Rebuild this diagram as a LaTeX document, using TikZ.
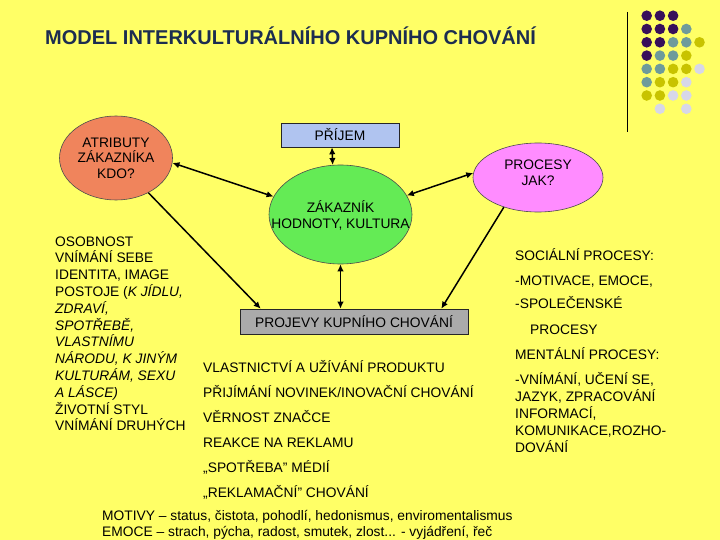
\documentclass[tikz,border=0pt]{standalone}
\usepackage{fontspec}
\setmainfont{Liberation Sans}
\usetikzlibrary{shapes.geometric,arrows.meta}
\definecolor{bg}{RGB}{255,255,102}
\definecolor{titc}{RGB}{28,45,80}
\definecolor{atrc}{RGB}{240,132,92}
\definecolor{zakc}{RGB}{100,235,85}
\definecolor{procc}{RGB}{255,140,255}
\definecolor{pric}{RGB}{176,196,240}
\definecolor{prjc}{RGB}{170,170,170}
\definecolor{dP}{RGB}{55,15,90}
\definecolor{dT}{RGB}{110,155,155}
\definecolor{dY}{RGB}{200,195,0}
\definecolor{dL}{RGB}{215,215,232}
\begin{document}
\begin{tikzpicture}[x=1pt,y=-1pt,
  txt/.style={inner sep=0pt, anchor=base west, font=\fontsize{13.8}{16}\selectfont},
  lbl/.style={inner sep=0pt, align=center, font=\fontsize{13.8}{16.5}\selectfont},
  ell/.style={ellipse, draw=black!70, line width=0.6pt, inner sep=0pt},
  boxx/.style={rectangle, draw=black!85, line width=0.6pt, inner sep=0pt, font=\fontsize{13.8}{16}\selectfont},
  conn/.style={line width=1.5pt, black},
  >={Latex[length=7pt,width=6.5pt]}]
\fill[bg] (0,0) rectangle (720,540);
\useasboundingbox (0,0) rectangle (720,540);

% title
\node[anchor=base west, inner sep=0pt, font=\bfseries\fontsize{20}{24}\selectfont, text=titc] (title) at (45,45) {MODEL INTERKULTURÁLNÍHO KUPNÍHO CHOVÁNÍ};

% decoration
\draw[line width=1pt] (627.7,12) -- (627.7,132);
\foreach \c/\r/\k in {0/0/dP,1/0/dP,2/0/dP,
  0/1/dP,1/1/dP,2/1/dP,3/1/dT,
  0/2/dP,1/2/dP,2/2/dT,3/2/dT,4/2/dY,
  0/3/dP,1/3/dT,2/3/dT,3/3/dY,
  0/4/dT,1/4/dT,2/4/dY,3/4/dY,4/4/dL,
  0/5/dT,1/5/dY,2/5/dY,3/5/dL,
  0/6/dY,1/6/dY,2/6/dL,3/6/dL,
  1/7/dL,3/7/dL}
  \fill[\k] ({646.7+13.2*\c},{15.7+13.3*\r}) circle[radius=5.3pt];

% main nodes
\node[ell, fill=atrc, minimum width=113pt, minimum height=84pt,
  label={[lbl,font=\fontsize{13.8}{15.5}\selectfont]center:ATRIBUTY\\ZÁKAZNÍKA\\KDO?}] (atr) at (116,158) {};
\node[boxx, fill=pric, minimum width=118pt, minimum height=24pt] (pri) at (340,135) {PŘÍJEM};
\node[ell, fill=procc, minimum width=130pt, minimum height=69pt,
  label={[lbl,yshift=5pt]center:PROCESY\\JAK?}] (proc) at (538,177.5) {};
\node[ell, fill=zakc, minimum width=143pt, minimum height=99pt,
  label={[lbl,yshift=-1pt]center:ZÁKAZNÍK\\HODNOTY, KULTURA}] (zak) at (340.5,214.5) {};
\node[boxx, fill=prjc, minimum width=228pt, minimum height=25pt] (prj) at (354,321.5) {PROJEVY KUPNÍHO CHOVÁNÍ};

% connectors
\draw[conn,<->] (atr.-5) -- (zak.165);
\draw[conn,<->] ([xshift=-8pt]pri.south) -- (zak.99);
\draw[conn,<->] (zak.16) -- (proc.176);
\draw[conn,<->] (zak.south) -- (zak.south |- prj.north);
\draw[conn,->] (atr.-47) -- ([xshift=21pt]prj.north west);
\draw[conn,->] (proc.-139) -- ([xshift=-27pt]prj.north east);

% left block
\foreach \t [count=\i] in {OSOBNOST,VNÍMÁNÍ SEBE,{IDENTITA, IMAGE},{POSTOJE (\textit{K JÍDLU,}},
  {\textit{ZDRAVÍ,}},{\textit{SPOTŘEBĚ,}},{\textit{VLASTNÍMU}},{\textit{NÁRODU, K JINÝM}},
  {\textit{KULTURÁM, SEXU}},{\textit{A LÁSCE)}},ŽIVOTNÍ STYL,VNÍMÁNÍ DRUHÝCH}
  \node[txt] (left\i) at (55,{246+16.8*(\i-1)}) {\t};

% middle list
\foreach \t [count=\i] in {VLASTNICTVÍ A UŽÍVÁNÍ PRODUKTU,PŘIJÍMÁNÍ NOVINEK/INOVAČNÍ CHOVÁNÍ,
  VĚRNOST ZNAČCE,REAKCE NA REKLAMU,{„SPOTŘEBA\char34{} MÉDIÍ},{„REKLAMAČNÍ\char34{} CHOVÁNÍ}}
  \node[txt] (mid\i) at (203,{372+25*(\i-1)}) {\t};

% right block
\node[txt] (r1) at (515,260) {SOCIÁLNÍ PROCESY:};
\node[txt] (r2) at (515,285) {-MOTIVACE, EMOCE,};
\node[txt] (r3) at (515,308) {-SPOLEČENSKÉ};
\node[txt] (r4) at (530,334) {PROCESY};
\node[txt] (r5) at (515,359) {MENTÁLNÍ PROCESY:};
\node[txt] (r6) at (515,384) {-VNÍMÁNÍ, UČENÍ SE,};
\node[txt] (r7) at (515,401) {JAZYK, ZPRACOVÁNÍ};
\node[txt] (r8) at (515,418) {INFORMACÍ,};
\node[txt] (r9) at (515,435) {KOMUNIKACE,ROZHO-};
\node[txt] (r10) at (515,452) {DOVÁNÍ};

% bottom
\node[txt] (mot) at (102,520) {MOTIVY – status, čistota, pohodlí, hedonismus, enviromentalismus};
\node[txt] (emo) at (102,536) {EMOCE – strach, pýcha, radost, smutek, zlost... - vyjádření, řeč};
\end{tikzpicture}
\end{document}
